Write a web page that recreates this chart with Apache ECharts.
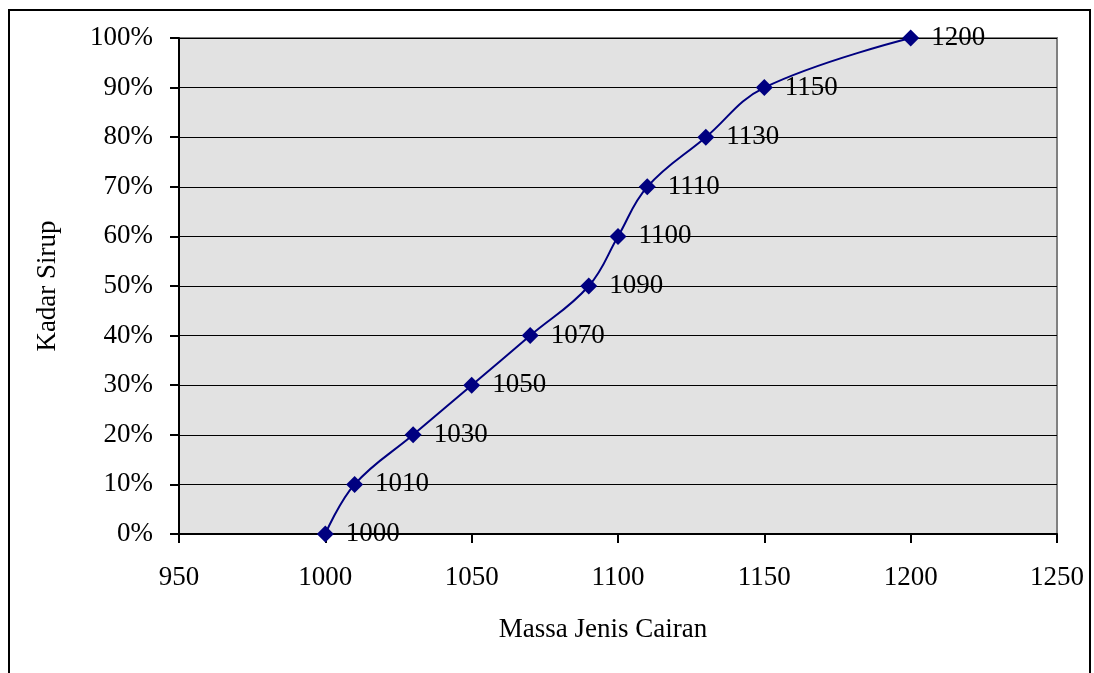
<!DOCTYPE html>
<html>
<head>
<meta charset="utf-8">
<script src="https://cdn.jsdelivr.net/npm/echarts@6/dist/echarts.min.js"></script>
<style>
html,body{margin:0;padding:0;background:#fff;}
#c{width:1094px;height:673px;}
</style>
</head>
<body>
<div id="c"></div>
<script>
const massaJenis = [1000, 1010, 1030, 1050, 1070, 1090, 1100, 1110, 1130, 1150, 1200];
const kadarSirup = [0, 10, 20, 30, 40, 50, 60, 70, 80, 90, 100];
const xTicks = [950, 1000, 1050, 1100, 1150, 1200, 1250];
const yTicks = [0, 10, 20, 30, 40, 50, 60, 70, 80, 90, 100];

const FONT = '"Liberation Serif", "Times New Roman", serif';
const FS = 27;
const points = massaJenis.map((x, i) => [x, kadarSirup[i]]);

const chart = echarts.init(document.getElementById('c'), null, {renderer: 'canvas'});
chart.setOption({
  animation: false,
  backgroundColor: '#ffffff',
  textStyle: {fontFamily: FONT, color: '#000'},
  graphic: [{
    type: 'rect',
    shape: {x: 9, y: 10, width: 1081, height: 700},
    style: {fill: 'none', stroke: '#000', lineWidth: 2},
    silent: true
  }],
  grid: {
    left: 179, right: 37, top: 38, bottom: 139,
    show: true,
    backgroundColor: '#e2e2e2',
    borderColor: '#808080',
    borderWidth: 2
  },
  xAxis: {
    type: 'value',
    min: xTicks[0], max: xTicks[xTicks.length - 1], interval: 50,
    name: 'Massa Jenis Cairan',
    nameLocation: 'middle',
    nameGap: 82,
    nameTextStyle: {fontFamily: FONT, fontSize: FS, color: '#000', padding: [0, 30, 0, 0]},
    axisLine: {show: true, lineStyle: {color: '#000', width: 2}},
    axisTick: {show: true, length: 9, lineStyle: {color: '#000', width: 2}},
    axisLabel: {fontFamily: FONT, fontSize: FS, color: '#000', margin: 30, formatter: v => String(v)},
    splitLine: {show: false}
  },
  yAxis: {
    type: 'value',
    min: yTicks[0], max: yTicks[yTicks.length - 1], interval: 10,
    name: 'Kadar Sirup',
    nameLocation: 'middle',
    nameGap: 118,
    nameTextStyle: {fontFamily: FONT, fontSize: FS, color: '#000'},
    axisLine: {show: true, lineStyle: {color: '#000', width: 2}},
    axisTick: {show: true, length: 9, lineStyle: {color: '#000', width: 2}},
    axisLabel: {fontFamily: FONT, fontSize: FS, color: '#000', margin: 26, formatter: '{value}%'},
    splitLine: {show: true, lineStyle: {color: '#000', width: 1}}
  },
  series: [{
    type: 'line',
    data: points,
    smooth: 0.4,
    symbol: 'diamond',
    symbolSize: 17,
    lineStyle: {color: '#000080', width: 2},
    itemStyle: {color: '#000080'},
    label: {
      show: true,
      position: 'right',
      distance: 12,
      fontFamily: FONT,
      fontSize: FS,
      color: '#000',
      formatter: p => String(p.value[0])
    }
  }]
});
</script>
</body>
</html>
